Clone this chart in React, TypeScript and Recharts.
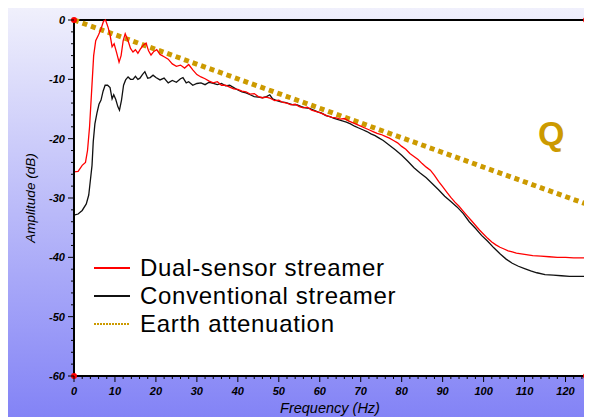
import React from 'react';
import { ComposedChart, Line, XAxis, YAxis, CartesianGrid, ReferenceLine, ReferenceDot, Legend, Label } from 'recharts';

const redFreq = [0,1,2,2.8,3.3,3.8,4.3,4.8,5.3,6,6.6,7.2,7.7,8.3,8.8,9.3,9.8,10.4,11,11.5,12,12.5,13.2,13.8,14.4,15,15.6,16.3,17,17.6,18.2,18.8,19.5,20.2,21,22,23,24,25,26,27,28,29,30,31,32,33,34,35,36,37,38,39,40,41,42,43,44,45,46,47,48,49,50,51,52,53,54,55,56,57,58,59,60,61,62,63,64,65,66,67,68,69,70,71,72,73,74,75,76,77,78,79,80,81,82,83,84,85,86,87,88,89,90,91,92,93,94,95,96,97,98,99,100,101,102,103,104,105,106,107,108,110,112,114,116,118,120,122,125];
const redAmp = [-25.6,-25.5,-24.5,-24,-22,-18,-12,-6,-3.5,-2.5,-1.5,-0.2,0,-1.2,-2.5,-4.5,-4,-5.5,-7.1,-6,-3.5,-2.3,-3.5,-4.8,-5.4,-5,-5.6,-4.8,-4.2,-3.9,-5.2,-5.9,-5.3,-5,-5.8,-6.2,-6.6,-7.4,-7.8,-7.6,-8.1,-7.5,-8.4,-9.2,-9.6,-9.9,-10.3,-10.6,-10.4,-11,-11,-11.3,-11.6,-11.7,-12,-12.1,-12.5,-12.4,-12.9,-13.1,-13,-13.2,-13.6,-13.5,-13.9,-14,-14.3,-14.2,-14.6,-14.8,-14.7,-15.2,-15.4,-15.6,-15.9,-16.2,-16.4,-16.5,-16.7,-16.6,-17,-17.3,-17.6,-17.9,-18.2,-18.5,-18.8,-19.1,-19.3,-19.6,-19.9,-20.3,-20.7,-21.3,-21.8,-22.5,-23,-23.5,-24.2,-24.8,-25.3,-26.2,-27.2,-28.1,-29,-29.9,-30.7,-31.4,-32.2,-33,-33.8,-34.6,-35.4,-36.1,-36.8,-37.4,-37.9,-38.3,-38.6,-38.9,-39.1,-39.3,-39.5,-39.7,-39.8,-39.9,-40,-40,-40.1,-40.1];

const blackFreq = [0,1,2,3,3.6,4,4.4,4.7,5.1,5.6,6.1,6.6,7.1,7.6,8.2,8.8,9.3,9.7,10.2,10.7,11.1,11.6,12.1,12.6,13.2,13.8,14.4,15,15.6,16.1,16.7,17.3,18,18.6,19.3,20,21,22,23,24,25,26,26.6,27.4,28,29,30,31,32,33,34,35,36,37,38,39,40,41,42,43,44,45,46,47,47.8,48.5,49.5,50.5,51.5,52.5,53.5,54.5,55.5,56.5,57.5,58.5,59.5,60.5,61.5,62.5,63.5,64.5,65.5,66.5,67.5,68.5,69.5,70.5,71.5,72.5,73.5,74.5,75.5,77,78.5,80,81.5,83,84.5,86,87.5,89,90.5,92,93.5,95,96.5,98,99.5,101,102.5,104,105.5,107,108.5,110,111.5,113,115,117,119,121,123,125];
const blackAmp = [-32.9,-32.7,-32.1,-31,-29.5,-27,-24.5,-20.5,-17.5,-15.7,-14.2,-13.5,-12,-11,-11,-11.4,-13.3,-12.6,-13.4,-14.6,-15.2,-13.5,-11,-10.1,-9.6,-10,-10,-9.5,-10,-9.8,-9.2,-8.7,-9.8,-9.7,-9.3,-9.7,-10.1,-9.8,-10.6,-10.2,-10.5,-9.9,-9.7,-10.6,-10.4,-11,-10.7,-10.6,-10.9,-10.5,-10.7,-10.9,-10.7,-11.1,-11,-11.4,-11.8,-12.1,-12.3,-12.6,-12.9,-13,-13.1,-12.9,-12.6,-13.3,-13.6,-13.8,-13.9,-14.1,-14.3,-14.3,-14.6,-14.8,-14.9,-15.2,-15.5,-15.7,-16.1,-16.3,-16.6,-16.8,-17,-17.2,-17.5,-17.9,-18.2,-18.5,-18.8,-19.2,-19.5,-19.9,-20.3,-21.1,-21.9,-22.8,-23.8,-24.9,-25.8,-26.6,-27.6,-28.6,-29.7,-30.6,-31.5,-32.6,-34,-35.1,-36.3,-37.3,-38.4,-39.4,-40.3,-41,-41.5,-41.9,-42.3,-42.6,-42.9,-43,-43.1,-43.2,-43.2,-43.2];

const earthFreq = [0, 125];
const earthAmp = [0, -31];

const xTicks = Array.from({ length: 63 }, (_, i) => i * 2);
const yTicks = Array.from({ length: 31 }, (_, i) => -60 + i * 2);

const legendNames = ['Dual-sensor streamer', 'Conventional streamer', 'Earth attenuation'];
const RED = '#ff0000';
const BLACK = '#111111';
const GOLD = '#cc9a00';

const redData = redFreq.map((f, i) => ({ f, v: redAmp[i] }));
const blackData = blackFreq.map((f, i) => ({ f, v: blackAmp[i] }));
const earthData = earthFreq.map((f, i) => ({ f, v: earthAmp[i] }));

const FONT = '"Liberation Sans", Arial, sans-serif';

const XTick = (props: any) => {
  const { x, y, payload } = props;
  const major = payload.value % 10 === 0;
  return (
    <g>
      <line x1={x} x2={x} y1={y} y2={y + (major ? 6 : 3)} stroke="#000" strokeWidth={1} />
      {major && (
        <text x={x} y={y + 19} textAnchor="middle" fontSize={11} fontStyle="italic" fontWeight="bold" fontFamily={FONT} fill="#000">
          {payload.value}
        </text>
      )}
    </g>
  );
};

const YTick = (props: any) => {
  const { x, y, payload } = props;
  const major = payload.value % 10 === 0;
  return (
    <g>
      <line x1={x} x2={x - (major ? 6 : 3)} y1={y} y2={y} stroke="#000" strokeWidth={1} />
      {major && (
        <text x={x - 9} y={y + 4} textAnchor="end" fontSize={11} fontStyle="italic" fontWeight="bold" fontFamily={FONT} fill="#000">
          {payload.value}
        </text>
      )}
    </g>
  );
};

const LegendContent = () => {
  const colors = [RED, BLACK, GOLD];
  return (
    <div style={{ fontFamily: FONT }}>
      {legendNames.map((n, i) => (
        <div key={n} style={{ display: 'flex', alignItems: 'center', height: 28 }}>
          <svg width={36} height={6} style={{ marginRight: 10 }}>
            {i < 2 ? (
              <line x1={0} x2={36} y1={3} y2={3} stroke={colors[i]} strokeWidth={2} />
            ) : (
              <line x1={0} x2={36} y1={3} y2={3} stroke={colors[i]} strokeWidth={2} strokeDasharray="2 1" />
            )}
          </svg>
          <span style={{ fontSize: 24, letterSpacing: 0.7, color: '#000', lineHeight: '28px', whiteSpace: 'nowrap' }}>{n}</span>
        </div>
      ))}
    </div>
  );
};

export default function App() {
  return (
    <div style={{ width: 584, height: 409, background: 'linear-gradient(to bottom, #f0f0fc, #8383f6)', position: 'relative' }}>
      <ComposedChart width={584} height={409} margin={{ top: 12, right: 6, bottom: 5, left: 6 }}>
        <CartesianGrid fill="#ffffff" horizontal={false} vertical={false} />
        <XAxis
          type="number"
          dataKey="f"
          domain={[0, 125]}
          ticks={xTicks}
          interval={0}
          tick={<XTick />}
          tickSize={0}
          tickMargin={0}
          tickLine={false}
          axisLine={{ stroke: '#000', strokeWidth: 2 }}
          height={36}
          allowDuplicatedCategory={false}
        >
          <Label
            content={(p: any) => {
              const vb = p.viewBox;
              return (
                <text x={vb.x + vb.width / 2} y={vb.y + 37} textAnchor="middle" fontSize={14.5} fontStyle="italic" fontFamily={FONT} fill="#000">
                  Frequency (Hz)
                </text>
              );
            }}
          />
        </XAxis>
        <YAxis
          type="number"
          dataKey="v"
          domain={[-60, 0]}
          ticks={yTicks}
          interval={0}
          tick={<YTick />}
          tickSize={0}
          tickMargin={0}
          tickLine={false}
          axisLine={{ stroke: '#000', strokeWidth: 2 }}
          width={60}
        >
          <Label
            content={(p: any) => {
              const vb = p.viewBox;
              const cx = vb.x + 16;
              const cy = vb.y + vb.height / 2;
              return (
                <text x={cx} y={cy} transform={`rotate(-90 ${cx} ${cy})`} textAnchor="middle" dominantBaseline="central" fontSize={13.5} fontStyle="italic" fontFamily={FONT} fill="#000">
                  Amplitude (dB)
                </text>
              );
            }}
          />
        </YAxis>
        <ReferenceLine y={0} stroke="#000" strokeWidth={2} />
        <ReferenceLine x={125} stroke="#777" strokeWidth={2} />
        <Line data={earthData} dataKey="v" type="linear" stroke={GOLD} strokeWidth={5} strokeDasharray="5 4" dot={false} isAnimationActive={false} />
        <Line data={blackData} dataKey="v" type="linear" stroke={BLACK} strokeWidth={1.3} dot={false} isAnimationActive={false} />
        <Line data={redData} dataKey="v" type="linear" stroke={RED} strokeWidth={1.3} dot={false} isAnimationActive={false} />
        <ReferenceDot x={0} y={0} r={3} fill={RED} stroke="none" />
        <ReferenceDot x={125} y={0} r={3} fill={RED} stroke="none" />
        <ReferenceDot x={0} y={-60} r={3} fill={RED} stroke="none" />
        <ReferenceDot x={125} y={-60} r={3} fill={RED} stroke="none" />
        <ReferenceDot x={116.5} y={-19} r={0} fill="none" stroke="none">
          <Label value="Q" position="center" fill={GOLD} fontSize={34} fontWeight="bold" fontFamily={FONT} />
        </ReferenceDot>
        <Legend
          layout="vertical"
          align="center"
          verticalAlign="middle"
          content={<LegendContent />}
          wrapperStyle={{ position: 'absolute', left: 86, top: 246, width: 340, height: 90 }}
        />
      </ComposedChart>
    </div>
  );
}
